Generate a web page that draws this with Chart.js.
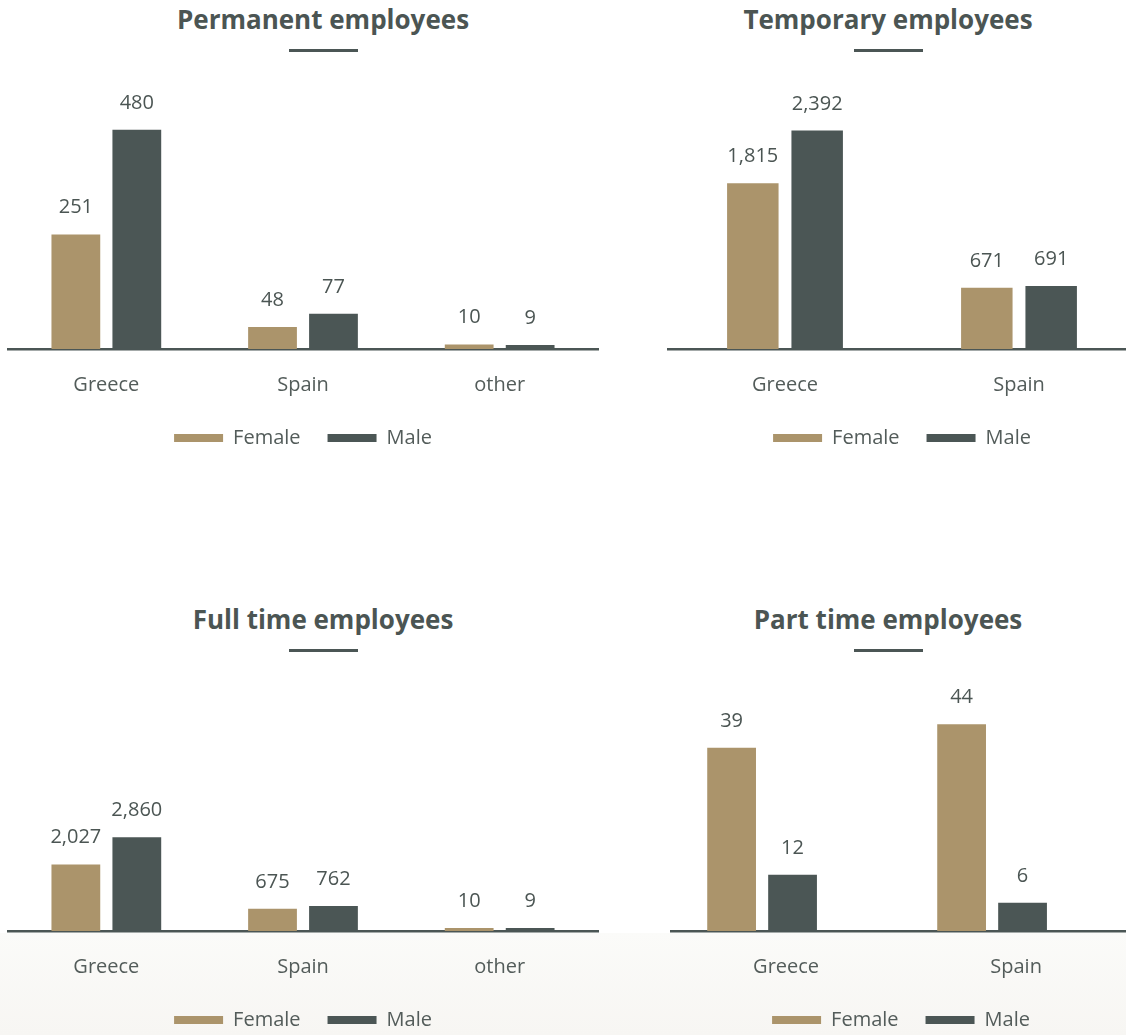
<!DOCTYPE html>
<html>
<head>
<meta charset="utf-8">
<title>Employees by contract type</title>
<script src="https://cdn.jsdelivr.net/npm/chart.js@4.4.1/dist/chart.umd.min.js"></script>
<style>
  html, body { margin: 0; padding: 0; }
  body {
    width: 1126px;
    height: 1035px;
    position: relative;
    overflow: hidden;
    background: #ffffff;
    font-family: "Open Sans", sans-serif;
  }
  .band {
    position: absolute;
    left: 0;
    top: 933px;
    width: 1126px;
    height: 102px;
    background: linear-gradient(#fbfbf9, #f7f6f3);
  }
  .heading {
    position: absolute;
    width: 420px;
    margin-left: -210px;
    text-align: center;
    font: 700 26px/32px "Open Sans", sans-serif;
    color: #4b5553;
  }
  .heading::after {
    content: '';
    display: block;
    width: 69px;
    height: 3px;
    margin: 14px auto 0;
    background: #4b5655;
  }
  .panel { position: absolute; }
</style>
</head>
<body>
<div class="band"></div>

<div class="heading" style="left:323px; top:3px;">Permanent employees</div>
<div class="heading" style="left:888px; top:3px;">Temporary employees</div>
<div class="heading" style="left:323px; top:603px;">Full time employees</div>
<div class="heading" style="left:888px; top:603px;">Part time employees</div>

<div class="panel" style="left:0; top:60px; width:600px; height:420px;"><canvas id="permanent"></canvas></div>
<div class="panel" style="left:600px; top:60px; width:600px; height:420px;"><canvas id="temporary"></canvas></div>
<div class="panel" style="left:0; top:660px; width:600px; height:402px;"><canvas id="fulltime"></canvas></div>
<div class="panel" style="left:600px; top:660px; width:600px; height:402px;"><canvas id="parttime"></canvas></div>

<script>
const femaleColor = '#ab946b';
const maleColor = '#4b5655';
const textColor = '#4b5553';
const labelColor = '#535c5a';

const seriesNames = ['Female', 'Male'];

const permanentCountries = ['Greece', 'Spain', 'other'];
const permanentFemale = [251, 48, 10];
const permanentMale = [480, 77, 9];

const temporaryCountries = ['Greece', 'Spain'];
const temporaryFemale = [1815, 671];
const temporaryMale = [2392, 691];

const fullTimeCountries = ['Greece', 'Spain', 'other'];
const fullTimeFemale = [2027, 675, 10];
const fullTimeMale = [2860, 762, 9];

const partTimeCountries = ['Greece', 'Spain'];
const partTimeFemale = [39, 44];
const partTimeMale = [12, 6];

Chart.defaults.font.family = '"Open Sans", sans-serif';

const numberFormat = new Intl.NumberFormat('en-US');

// writes each bar's value just above it
const barValueLabels = {
  id: 'barValueLabels',
  afterDatasetsDraw(chart) {
    const ctx = chart.ctx;
    ctx.save();
    ctx.font = '400 20px "Open Sans", sans-serif';
    ctx.fillStyle = textColor;
    ctx.textAlign = 'center';
    ctx.textBaseline = 'alphabetic';
    chart.data.datasets.forEach((ds, i) => {
      chart.getDatasetMeta(i).data.forEach((bar, j) => {
        ctx.fillText(numberFormat.format(ds.data[j].y), bar.x, bar.y - 21);
      });
    });
    ctx.restore();
  }
};

function toPoints(values) {
  return values.map((v, i) => ({ x: i, y: v }));
}

function drawGroupedBars(canvasId, countries, female, male, opts) {
  const ctx = document.getElementById(canvasId).getContext('2d');
  const shift = opts.shift || 0;
  const barStyle = {
    categoryPercentage: opts.catPct,
    barPercentage: 0.8,
    minBarLength: 3,
    borderWidth: 0,
  };

  return new Chart(ctx, {
    type: 'bar',
    data: {
      datasets: [
        Object.assign({ label: seriesNames[0], data: toPoints(female), backgroundColor: femaleColor }, barStyle),
        Object.assign({ label: seriesNames[1], data: toPoints(male), backgroundColor: maleColor }, barStyle),
      ],
    },
    options: {
      responsive: true,
      maintainAspectRatio: false,
      animation: false,
      layout: { padding: opts.padding },
      plugins: {
        legend: {
          position: 'bottom',
          labels: {
            boxWidth: 49,
            boxHeight: 8,
            padding: 27,
            color: labelColor,
            font: { size: 20 },
          },
        },
        tooltip: { enabled: false },
      },
      scales: {
        x: {
          type: 'linear',
          bounds: 'data',
          offset: false,
          min: -0.5 + shift,
          max: countries.length - 0.5 + shift,
          afterBuildTicks: (scale) => {
            scale.ticks = countries.map((c, i) => ({ value: i }));
          },
          afterFit: (scale) => {
            scale.height = 52;
          },
          grid: { display: false, drawTicks: false, offset: false },
          border: { color: maleColor, width: 2.5 },
          ticks: {
            callback: (v) => countries[v],
            autoSkip: false,
            maxRotation: 0,
            padding: 24,
            labelOffset: opts.labelOffset || 0,
            color: labelColor,
            font: { size: 20 },
          },
        },
        y: { display: false, min: 0, max: opts.max },
      },
    },
    plugins: [barValueLabels],
  });
}

drawGroupedBars('permanent', permanentCountries, permanentFemale, permanentMale, {
  max: 600,
  catPct: 0.62,
  padding: { left: 8, right: 2, top: 15, bottom: 22 },
});

drawGroupedBars('temporary', temporaryCountries, temporaryFemale, temporaryMale, {
  max: 3000,
  catPct: 0.55,
  padding: { left: 68, right: 64, top: 15, bottom: 22 },
});

drawGroupedBars('fulltime', fullTimeCountries, fullTimeFemale, fullTimeMale, {
  max: 7800,
  catPct: 0.62,
  padding: { left: 8, right: 2, top: 15, bottom: 22 },
});

// part time bars sit a little left of their country names
drawGroupedBars('parttime', partTimeCountries, partTimeFemale, partTimeMale, {
  max: 54.5,
  catPct: 0.53,
  shift: 0.104,
  labelOffset: 24,
  padding: { left: 71, right: 69, top: 15, bottom: 22 },
});
</script>
</body>
</html>
